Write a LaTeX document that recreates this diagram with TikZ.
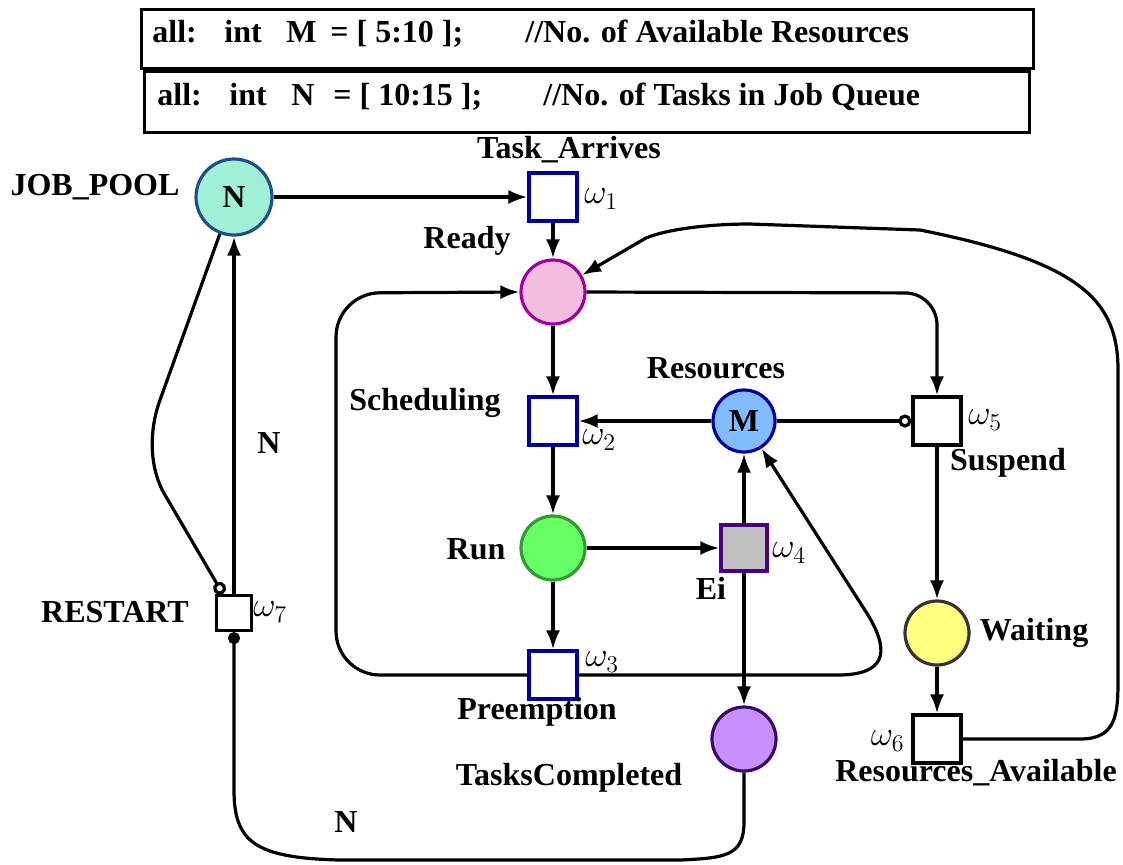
\documentclass[tikz,border=0pt]{standalone}
\usepackage[no-math]{fontspec}
\setmainfont{Liberation Serif}
\usetikzlibrary{arrows.meta}

\definecolor{jpfill}{HTML}{A0F0D7}
\definecolor{jpdraw}{HTML}{1F4E8A}
\definecolor{navy}{HTML}{000099}
\definecolor{rdyfill}{HTML}{F2BEE0}
\definecolor{rdydraw}{HTML}{A000A0}
\definecolor{resfill}{HTML}{80BCFF}
\definecolor{resdraw}{HTML}{0000A0}
\definecolor{runfill}{HTML}{66FF66}
\definecolor{rundraw}{HTML}{339933}
\definecolor{eifill}{HTML}{C0C0C0}
\definecolor{eidraw}{HTML}{4B0082}
\definecolor{tcfill}{HTML}{C890FF}
\definecolor{tcdraw}{HTML}{3C0A64}
\definecolor{wfill}{HTML}{FFFF80}
\definecolor{wdraw}{HTML}{333333}

\begin{document}
\begin{tikzpicture}[x=0.5pt,y=-0.5pt,
  lbl/.style={font=\bfseries\fontsize{16}{19}\selectfont, inner sep=0pt},
  wlbl/.style={font=\fontsize{17}{20}\selectfont, inner sep=0pt},
  pl/.style={circle, draw, line width=1.6pt, minimum size=32pt, inner sep=0pt,
             font=\bfseries\fontsize{16}{19}\selectfont},
  tr/.style={rectangle, draw, line width=1.6pt, minimum size=24pt, inner sep=0pt, fill=white},
  hdr/.style={rectangle, draw, line width=1.6pt, anchor=north west, inner sep=0pt},
  fl/.style={line width=1.6pt, -{Latex[length=9.5pt,width=7pt]}},
  inh/.style={line width=1.6pt, -{Circle[open,length=6.5pt,width=6.5pt]}},
  dot/.style={line width=1.6pt, -{Circle[length=6pt,width=6pt]}}
]
\useasboundingbox (0,0) rectangle (1123,864);

% declaration boxes
\node[hdr, minimum width=446pt, minimum height=29.5pt] (hbox1) at (140,8) {};
\node[hdr, minimum width=442.5pt, minimum height=30.5pt] (hbox2) at (143,70) {};
\node[lbl, anchor=base west] (htext1) at (152,42)
  {\makebox[36pt][l]{all:}\makebox[31pt][l]{int}\makebox[22pt][l]{M}\makebox[97.5pt][l]{= [ 5:10 ];}//No. of Available Resources};
\node[lbl, anchor=base west] (htext2) at (157,105)
  {\makebox[36pt][l]{all:}\makebox[31pt][l]{int}\makebox[21pt][l]{N}\makebox[105pt][l]{= [ 10:15 ];}//No. of Tasks in Job Queue};

% places
\node[pl, fill=jpfill, draw=jpdraw, minimum size=38pt] (jp) at (234,197) {N};
\node[pl, fill=rdyfill, draw=rdydraw] (rdy) at (553,292) {};
\node[pl, fill=resfill, draw=resdraw, minimum size=31pt] (res) at (744,421) {M};
\node[pl, fill=runfill, draw=rundraw] (run) at (553,548) {};
\node[pl, fill=tcfill, draw=tcdraw] (tc) at (744,739) {};
\node[pl, fill=wfill, draw=wdraw] (wait) at (937,633) {};

% transitions
\node[tr, draw=navy] (ta) at (553,197) {};
\node[tr, draw=navy] (sch) at (553,421) {};
\node[tr] (sus) at (937,421) {};
\node[tr, fill=eifill, draw=eidraw, minimum size=23pt] (ei) at (744,548) {};
\node[tr, draw=navy] (pre) at (553,675) {};
\node[tr] (ra) at (937,739) {};
\node[tr, minimum size=17.5pt] (rst) at (234,613) {};

% names
\node[lbl] (lta) at (569,150) {Task\_Arrives};
\node[lbl] (ljp) at (95,187) {JOB\_POOL};
\node[lbl] (lrdy) at (467,241) {Ready};
\node[lbl] (lsch) at (425,403) {Scheduling};
\node[lbl] (lres) at (716,368) {Resources};
\node[lbl] (lsus) at (1008,463) {Suspend};
\node[lbl] (lrun) at (476,549) {Run};
\node[lbl] (lei) at (711,588) {Ei};
\node[lbl] (lpre) at (537,712) {Preemption};
\node[lbl] (ltc) at (569,778) {TasksCompleted};
\node[lbl] (lwait) at (1034,633) {Waiting};
\node[lbl] (lra) at (976,773) {Resources\_Available};
\node[lbl] (lrst) at (115,612) {RESTART};
\node[lbl] (ln1) at (269,443) {N};
\node[lbl] (ln2) at (346,822) {N};

% rates
\node[wlbl, anchor=west] (w1) at (584,199) {$\omega_1$};
\node[wlbl, anchor=west] (w2) at (582,440) {$\omega_2$};
\node[wlbl, anchor=west] (w3) at (585,662) {$\omega_3$};
\node[wlbl, anchor=west] (w4) at (772,553) {$\omega_4$};
\node[wlbl, anchor=west] (w5) at (968,420) {$\omega_5$};
\node[wlbl, anchor=east] (w6) at (905,741) {$\omega_6$};
\node[wlbl, anchor=west] (w7) at (253,612) {$\omega_7$};

% straight arcs
\draw[fl] (jp) -- (ta);
\draw[fl] (ta) -- (rdy);
\draw[fl] (rdy) -- (sch);
\draw[fl] (res) -- (sch);
\draw[fl] (sch) -- (run);
\draw[fl] (run) -- (ei);
\draw[fl] (ei) -- (res);
\draw[fl] (ei) -- (tc);
\draw[fl] (run) -- (pre);
\draw[inh] (res) -- (sus);
\draw[fl] (sus) -- (wait);
\draw[fl] (wait) -- (ra);
\draw[fl] (rst) -- (jp);

% preemption back to ready
\draw[fl, rounded corners=22pt] (pre.west) -- (336,675) -- (336,293) -- (rdy.west);
% preemption releases the resource
\draw[fl] (pre.east) -- (840,675) .. controls (892,674) and (886,645) .. (868,615) -- (res);
% ready to suspend
\draw[fl, rounded corners=16pt] (rdy.east) -- (937,293) -- (sus.north);
% resources available back to ready
\draw[fl] (ra.east) -- (1080,739) .. controls (1116,739) and (1118,715) .. (1118,680)
  -- (1118,370) .. controls (1118,300) and (1080,262) .. (920,230)
  -- (750,224) .. controls (705,224) and (665,230) .. (646,238) -- (rdy);
% job pool inhibits restart
\coordinate (rstin) at ([xshift=4pt]rst.north west);
\draw[inh] (jp.249) -- (160,400) .. controls (148,433) and (150,470) .. (165,495) -- (rstin);
% completed tasks feed restart
\draw[dot] (tc.south) -- (744,822) .. controls (744,856) and (725,858) .. (680,860)
  -- (340,860) .. controls (255,858) and (234,842) .. (234,790) -- (rst.south);
\end{tikzpicture}
\end{document}
